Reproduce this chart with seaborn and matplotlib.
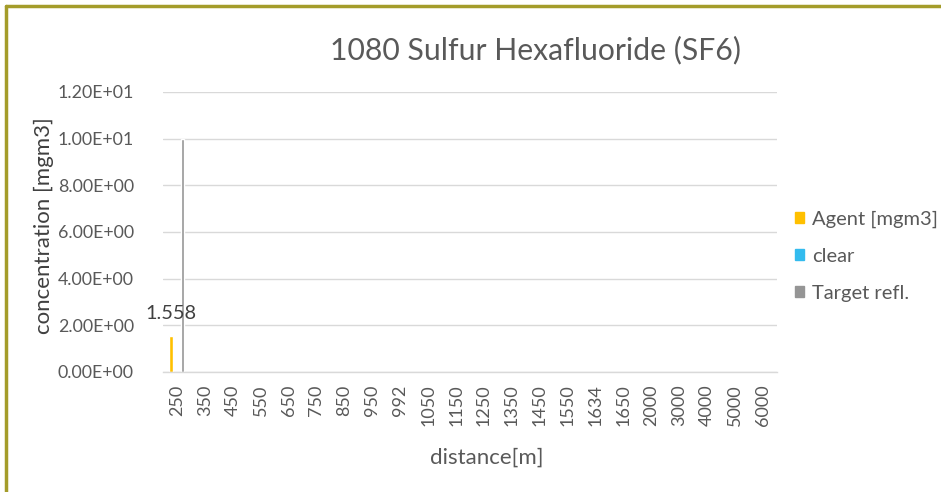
import matplotlib
matplotlib.use("Agg")
import matplotlib.pyplot as plt
import seaborn as sns
import pandas as pd
from matplotlib.lines import Line2D
from matplotlib.ticker import FuncFormatter, MultipleLocator

distances = ["250", "350", "450", "550", "650", "750", "850", "950", "992", "1050", "1150",
             "1250", "1350", "1450", "1550", "1634", "1650", "2000", "3000", "4000", "5000", "6000"]
agent = [1.558] + [0] * 21
clear = [0] * 22
target = [10] + [0] * 21
series_names = ["Agent [mgm3]", "clear", "Target refl."]
colors = ["#FFC000", "#33BBEE", "#959595"]

rows = []
for name, vals in zip(series_names, [agent, clear, target]):
    for d, v in zip(distances, vals):
        rows.append({"distance": d, "value": v, "series": name})
df = pd.DataFrame(rows)

sns.set_theme(style="white")
plt.rcParams['font.family'] = ['Lato', 'DejaVu Sans']

fig = plt.figure(figsize=(9.41, 4.92), dpi=100)
ax = fig.add_axes([163/941, 1-372/492, (777-163)/941, (372-92)/492])

sns.barplot(data=df, x="distance", y="value", hue="series", order=distances,
            hue_order=series_names, palette=colors, width=0.6, gap=0.3,
            ax=ax, legend=False, saturation=1)

ax.set_ylim(0, 12)
ax.yaxis.set_major_locator(MultipleLocator(2))
ax.yaxis.set_major_formatter(FuncFormatter(lambda v, p: f"{v:.2E}"))
ax.set_xlim(-0.5, len(distances) - 0.5)
ax.grid(axis="y", color="#D9D9D9", linewidth=1)
ax.set_axisbelow(True)
for s in ["left", "right", "top"]:
    ax.spines[s].set_visible(False)
ax.spines["bottom"].set_color("#D9D9D9")
ax.spines["bottom"].set_linewidth(1)

ax.set_xticks(range(len(distances)))
ax.set_xticklabels(distances, rotation=90, fontsize=13, color="#595959")
ax.tick_params(axis="x", length=0, pad=9)
ax.set_xticks([i - 0.5 for i in range(len(distances) + 1)], minor=True)
ax.tick_params(axis="x", which="minor", length=5, color="#D9D9D9", width=1, direction="out")
ax.tick_params(axis="y", length=0, labelsize=12.8, labelcolor="#595959", pad=21)

ax.set_xlabel("distance[m]", fontsize=16, color="#595959")
ax.xaxis.set_label_coords((487-163)/614, -(458-372)/280)
ax.xaxis.label.set_va("center")
ax.set_ylabel("concentration [mgm3]", fontsize=16, color="#404040")
ax.yaxis.set_label_coords(-(163-44)/614, (372-226)/280)
ax.yaxis.label.set_va("center")

# data label on Agent bar
cont = ax.containers[0]
ax.bar_label(cont, labels=["1.558"] + [""] * 21, padding=10, fontsize=14.4, color="#404040")

fig.text(536/941, 1-50/492, "1080 Sulfur Hexafluoride (SF6)", ha="center", va="center",
         fontsize=21.7, color="#595959")

handles = [plt.Rectangle((0, 0), 1, 1, color=c) for c in colors]
leg = fig.legend(handles, series_names, loc="center left", bbox_to_anchor=(795/941, 1-256/492),
                 frameon=False, fontsize=14.5, handlelength=0.45, handleheight=0.45,
                 handletextpad=0.4, labelspacing=1.0, labelcolor="#595959",
                 borderpad=0, borderaxespad=0)

border = "#A49C2A"
fig.add_artist(Line2D([6/941, 6/941], [0, 1-6/492], transform=fig.transFigure, color=border, lw=2.5))
fig.add_artist(Line2D([6/941, 1], [1-6/492, 1-6/492], transform=fig.transFigure, color=border, lw=2.5))

fig.savefig("out.png", dpi=100)
